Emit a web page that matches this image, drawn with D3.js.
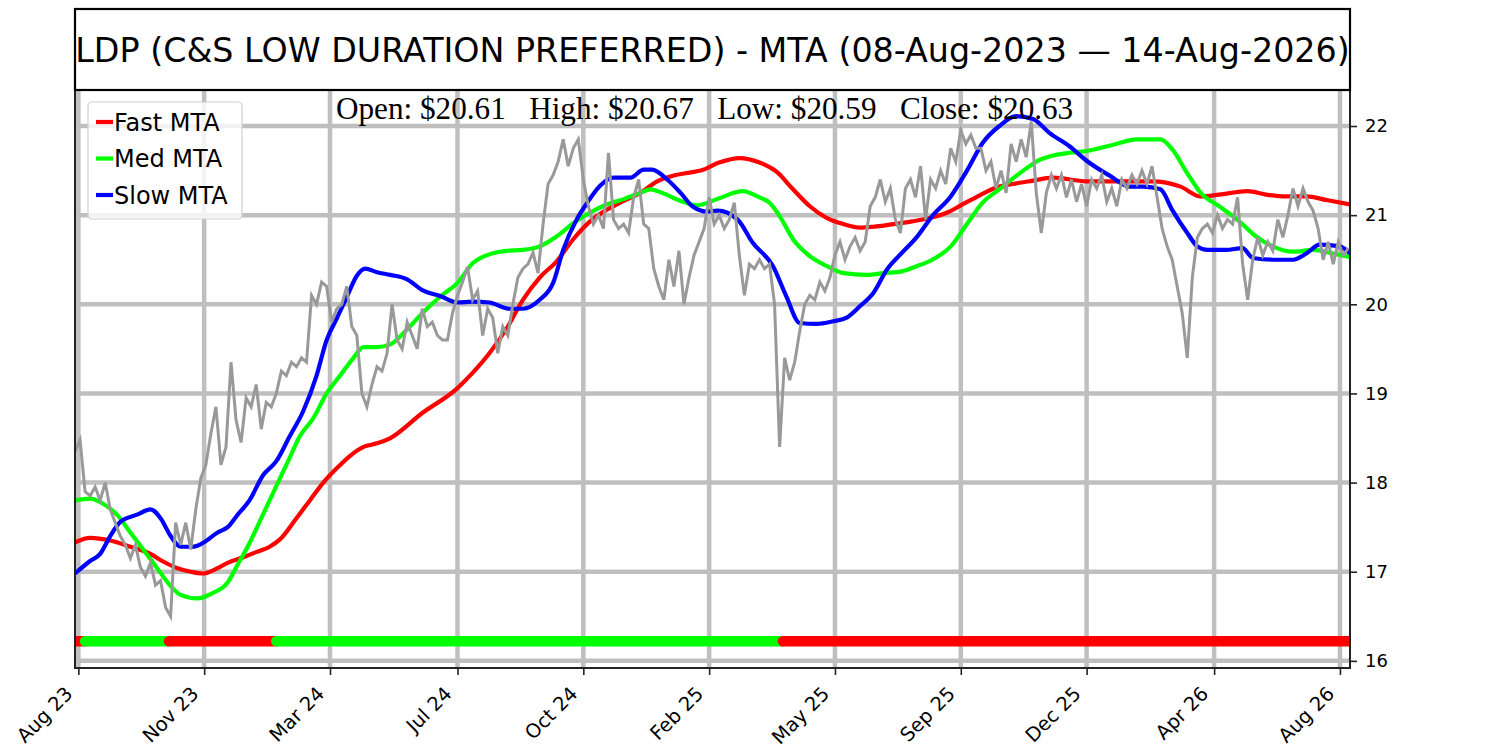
<!DOCTYPE html>
<html>
<head>
<meta charset="utf-8">
<script src="https://cdn.jsdelivr.net/npm/d3@7"></script>
<style>
  body { margin: 0; background: #fff; }
  svg text { font-family: "DejaVu Sans", sans-serif; }
</style>
</head>
<body>
<div id="chart"></div>
<script>
// close price, one value every 3 trading days
const priceStep = 3;
const priceVals = [
  18.35, 18.48, 17.9, 17.85, 17.95, 17.8, 18.0, 17.7, 17.55, 17.4,
  17.3, 17.15, 17.3, 17.05, 16.95, 17.1, 16.85, 16.9, 16.6, 16.5,
  17.55, 17.3, 17.55, 17.25, 17.7, 18.05, 18.2, 18.55, 18.85, 18.2,
  18.4, 19.35, 18.7, 18.45, 18.95, 18.85, 19.1, 18.6, 18.9, 18.85,
  19.0, 19.25, 19.2, 19.35, 19.3, 19.4, 19.35, 20.1, 20.0, 20.25,
  20.2, 19.8, 19.95, 20.0, 20.2, 19.75, 19.65, 19.0, 18.85, 19.1,
  19.3, 19.25, 19.45, 20.0, 19.6, 19.5, 19.8, 19.65, 19.5, 19.95,
  19.75, 19.8, 19.65, 19.6, 19.6, 19.9, 20.1, 20.25, 20.42, 20.05,
  20.15, 19.65, 19.95, 19.85, 19.45, 19.75, 19.65, 20.0, 20.3, 20.4,
  20.45, 20.58, 20.35, 20.9, 21.35, 21.45, 21.6, 21.85, 21.55, 21.75,
  21.85, 21.4, 21.1, 20.9, 21.0, 20.85, 21.7, 20.95, 20.85, 20.9,
  20.8, 21.2, 21.4, 20.9, 20.85, 20.4, 20.2, 20.05, 20.5, 20.2,
  20.6, 20.0, 20.3, 20.55, 20.7, 20.85, 21.2, 20.9, 21.0, 20.85,
  20.95, 21.14, 20.55, 20.1, 20.45, 20.4, 20.5, 20.4, 20.45, 20.0,
  18.4, 19.4, 19.15, 19.35, 19.7, 20.0, 20.1, 20.05, 20.25, 20.15,
  20.3, 20.55, 20.7, 20.5, 20.65, 20.75, 20.6, 20.7, 21.1, 21.2,
  21.4, 21.15, 21.3, 20.95, 20.8, 21.3, 21.4, 21.2, 21.55, 20.95,
  21.4, 21.3, 21.5, 21.35, 21.75, 21.6, 21.95, 21.8, 21.9, 21.75,
  21.75, 21.5, 21.6, 21.3, 21.5, 21.25, 21.8, 21.6, 21.85, 21.65,
  22.05, 21.25, 20.8, 21.25, 21.45, 21.3, 21.45, 21.2, 21.4, 21.15,
  21.35, 21.1, 21.4, 21.3, 21.45, 21.15, 21.3, 21.1, 21.4, 21.3,
  21.45, 21.35, 21.5, 21.35, 21.55, 21.2, 20.85, 20.65, 20.5, 20.2,
  19.9, 19.4, 20.3, 20.75, 20.85, 20.9, 20.8, 21.0, 20.85, 20.95,
  20.9, 21.2, 20.45, 20.05, 20.5, 20.75, 20.55, 20.7, 20.6, 20.95,
  20.75, 21.0, 21.3, 21.1, 21.3, 21.15, 21.05, 20.85, 20.5, 20.7,
  20.45, 20.7, 20.55, 20.63
];

// [trading day, value]
const fastMta = [[0,17.33],[9,17.38],[21,17.35],[33,17.28],[45,17.2],[52,17.12],[61,17.04],[69,17.0],[76,16.98],[85,17.04],[91,17.1],[100,17.16],[108,17.22],[116,17.28],[122,17.36],[132,17.6],[140,17.8],[148,18.0],[156,18.16],[164,18.3],[172,18.4],[180,18.44],[188,18.5],[207,18.78],[228,19.06],[237,19.23],[247,19.45],[257,19.72],[267,20.05],[277,20.3],[287,20.48],[297,20.73],[307,20.93],[317,21.06],[327,21.16],[337,21.25],[347,21.38],[356,21.44],[367,21.48],[373,21.5],[384,21.59],[396,21.64],[408,21.59],[418,21.49],[428,21.29],[438,21.1],[448,20.97],[458,20.9],[468,20.86],[476,20.87],[488,20.9],[499,20.93],[510,20.97],[520,21.03],[529,21.12],[539,21.22],[549,21.31],[559,21.35],[569,21.38],[583,21.42],[603,21.38],[623,21.38],[642,21.38],[659,21.32],[671,21.21],[682,21.23],[699,21.27],[710,21.23],[722,21.21],[734,21.21],[746,21.17],[760,21.12]];
const medMta = [[0,17.8],[9,17.82],[17,17.76],[25,17.64],[33,17.44],[41,17.24],[49,17.04],[57,16.84],[63,16.74],[73,16.7],[82,16.76],[91,16.88],[97,17.08],[104,17.32],[112,17.64],[120,17.96],[128,18.28],[134,18.52],[142,18.72],[150,19.0],[158,19.2],[166,19.4],[172,19.52],[180,19.52],[188,19.55],[198,19.72],[207,19.9],[218,20.09],[228,20.24],[237,20.46],[247,20.56],[257,20.6],[267,20.61],[277,20.65],[287,20.76],[297,20.91],[307,21.03],[317,21.12],[327,21.18],[337,21.25],[343,21.29],[350,21.25],[361,21.16],[371,21.11],[384,21.19],[398,21.27],[408,21.2],[414,21.14],[420,20.99],[428,20.73],[438,20.54],[448,20.43],[458,20.35],[472,20.33],[482,20.35],[493,20.37],[502,20.43],[511,20.5],[522,20.65],[532,20.91],[541,21.14],[551,21.29],[561,21.44],[569,21.55],[575,21.62],[593,21.7],[603,21.72],[619,21.79],[633,21.85],[647,21.85],[654,21.74],[663,21.47],[671,21.25],[682,21.1],[694,20.93],[704,20.76],[714,20.65],[726,20.59],[738,20.61],[750,20.57],[760,20.53]];
const slowMta = [[0,16.98],[9,17.12],[15,17.2],[21,17.4],[27,17.56],[37,17.64],[45,17.7],[51,17.6],[57,17.4],[63,17.28],[70,17.28],[76,17.32],[85,17.44],[91,17.5],[97,17.64],[104,17.8],[112,18.08],[120,18.24],[128,18.52],[136,18.8],[144,19.2],[150,19.6],[156,19.84],[162,20.08],[168,20.32],[173,20.4],[180,20.36],[188,20.33],[198,20.28],[207,20.16],[218,20.09],[228,20.02],[237,20.03],[247,20.02],[259,19.95],[267,19.95],[277,20.05],[285,20.24],[291,20.61],[299,20.95],[305,21.13],[313,21.33],[321,21.42],[331,21.42],[339,21.51],[344,21.51],[353,21.4],[361,21.25],[368,21.1],[377,21.04],[383,21.05],[395,20.95],[404,20.69],[416,20.43],[424,20.09],[432,19.79],[442,19.78],[452,19.81],[460,19.85],[468,19.98],[476,20.13],[484,20.39],[492,20.56],[502,20.76],[511,20.99],[522,21.21],[532,21.51],[541,21.81],[551,22.0],[561,22.11],[571,22.08],[581,21.92],[593,21.77],[603,21.61],[617,21.44],[629,21.32],[637,21.32],[647,21.29],[654,21.06],[663,20.8],[669,20.65],[675,20.61],[686,20.61],[696,20.63],[702,20.52],[714,20.5],[726,20.5],[734,20.57],[742,20.67],[754,20.65],[760,20.57]];

// signal strip
const signalLevel = 16.22;
const sigStart = [0, 6, 56, 120, 422];
const sigEnd = [6, 56, 120, 422, 760];
const sigColor = ["#ff0000", "#00ff00", "#ff0000", "#00ff00", "#ff0000"];

const tickDays = [2, 77, 152, 228, 303, 378, 453, 528, 603, 679, 754];
const tickLabels = ["Aug 23", "Nov 23", "Mar 24", "Jul 24", "Oct 24", "Feb 25", "May 25", "Sep 25", "Dec 25", "Apr 26", "Aug 26"];
const yTicks = [16, 17, 18, 19, 20, 21, 22];

const seriesNames = ["Fast MTA", "Med MTA", "Slow MTA"];
const seriesColors = ["#ff0000", "#00ff00", "#0000ff"];
const titleText = "LDP (C&S LOW DURATION PREFERRED) - MTA (08-Aug-2023 \u2014 14-Aug-2026)";
const ohlcText = "Open: $20.61   High: $20.67   Low: $20.59   Close: $20.63";

(function () {
    const W = 1500, H = 750;
    const plot = { left: 75, right: 1350, top: 90, bottom: 668 };

    const svg = d3.select("#chart")
        .append("svg")
        .attr("width", W)
        .attr("height", H);

    const x = d3.scaleLinear().domain([0, 760]).range([plot.left, plot.right]);
    const y = d3.scaleLinear().domain([15.92, 22.404]).range([plot.bottom, plot.top]);

    svg.append("clipPath").attr("id", "clip")
        .append("rect")
        .attr("x", plot.left).attr("y", plot.top)
        .attr("width", plot.right - plot.left).attr("height", plot.bottom - plot.top);

    // grid
    const grid = svg.append("g").attr("stroke", "#bfbfbf").attr("stroke-width", 4.5);
    grid.selectAll("line.h").data(yTicks).join("line").attr("class", "h")
        .attr("x1", plot.left).attr("x2", plot.right)
        .attr("y1", d => y(d)).attr("y2", d => y(d));
    grid.selectAll("line.v").data(tickDays).join("line").attr("class", "v")
        .attr("x1", d => x(d)).attr("x2", d => x(d))
        .attr("y1", plot.top).attr("y2", plot.bottom);

    const area = svg.append("g").attr("clip-path", "url(#clip)");

    // moving averages
    const mtaLine = d3.line()
        .x(d => x(d[0]))
        .y(d => y(d[1]))
        .curve(d3.curveMonotoneX);
    [fastMta, medMta, slowMta].forEach((s, i) => {
        area.append("path")
            .datum(s)
            .attr("fill", "none")
            .attr("stroke", seriesColors[i])
            .attr("stroke-width", 4.2)
            .attr("d", mtaLine);
    });

    // price
    const priceLine = d3.line()
        .x((d, i) => x(i * priceStep))
        .y(d => y(d));
    area.append("path")
        .datum(priceVals)
        .attr("fill", "none")
        .attr("stroke", "#999999")
        .attr("stroke-width", 3)
        .attr("stroke-linejoin", "miter")
        .attr("d", priceLine);

    // signal strip
    area.selectAll("line.sig")
        .data(sigStart)
        .join("line")
        .attr("class", "sig")
        .attr("x1", d => x(d))
        .attr("x2", (d, i) => x(sigEnd[i]))
        .attr("y1", y(signalLevel))
        .attr("y2", y(signalLevel))
        .attr("stroke", (d, i) => sigColor[i])
        .attr("stroke-width", 10.5)
        .attr("stroke-linecap", "round");

    // x axis
    const xAxis = svg.append("g")
        .attr("transform", `translate(0,${plot.bottom})`)
        .call(d3.axisBottom(x).tickValues(tickDays).tickFormat((d, i) => tickLabels[i]).tickSize(7).tickSizeOuter(0));
    xAxis.select(".domain").remove();
    xAxis.selectAll(".tick line").attr("stroke", "#222").attr("stroke-width", 1.6);
    xAxis.selectAll(".tick text")
        .attr("x", 0).attr("y", 0).attr("dy", 0)
        .attr("transform", "translate(-5,27) rotate(-45)")
        .attr("text-anchor", "end")
        .attr("fill", "#000")
        .style("font-size", "19.5px");

    // y axis on the right
    const yAxis = svg.append("g")
        .attr("transform", `translate(${plot.right},0)`)
        .call(d3.axisRight(y).tickValues(yTicks).tickFormat(d3.format("d")).tickSize(7).tickPadding(8).tickSizeOuter(0));
    yAxis.select(".domain").remove();
    yAxis.selectAll(".tick line").attr("stroke", "#222").attr("stroke-width", 1.6);
    yAxis.selectAll(".tick text").attr("fill", "#000").style("font-size", "18px");

    // spines
    svg.append("rect")
        .attr("x", plot.left).attr("y", plot.top)
        .attr("width", plot.right - plot.left).attr("height", plot.bottom - plot.top)
        .attr("fill", "none").attr("stroke", "#222").attr("stroke-width", 2);

    // title box
    svg.append("rect")
        .attr("x", plot.left).attr("y", 9)
        .attr("width", plot.right - plot.left).attr("height", plot.top - 9)
        .attr("fill", "#fff").attr("stroke", "#000").attr("stroke-width", 2.2);
    svg.append("text")
        .attr("x", (plot.left + plot.right) / 2).attr("y", 62)
        .attr("text-anchor", "middle")
        .style("font-size", "33.3px")
        .text(titleText);

    // OHLC line
    svg.append("text")
        .attr("x", 336).attr("y", 119)
        .style("font-family", "'Liberation Serif', 'DejaVu Serif', serif")
        .style("font-size", "31.2px")
        .style("white-space", "pre")
        .text(ohlcText);

    // legend
    const lg = svg.append("g");
    lg.append("rect")
        .attr("x", 88).attr("y", 102).attr("width", 154).attr("height", 117)
        .attr("rx", 4).attr("fill", "#fff").attr("fill-opacity", 0.8)
        .attr("stroke", "#d0d0d0").attr("stroke-width", 1.2);
    seriesNames.forEach((name, i) => {
        const cy = 122 + i * 36.5;
        lg.append("line").attr("x1", 96).attr("x2", 113).attr("y1", cy).attr("y2", cy)
            .attr("stroke", seriesColors[i]).attr("stroke-width", 4.2);
        lg.append("text").attr("x", 114).attr("y", cy + 8.7)
            .style("font-size", "24px").text(name);
    });
})()
</script>
</body>
</html>
